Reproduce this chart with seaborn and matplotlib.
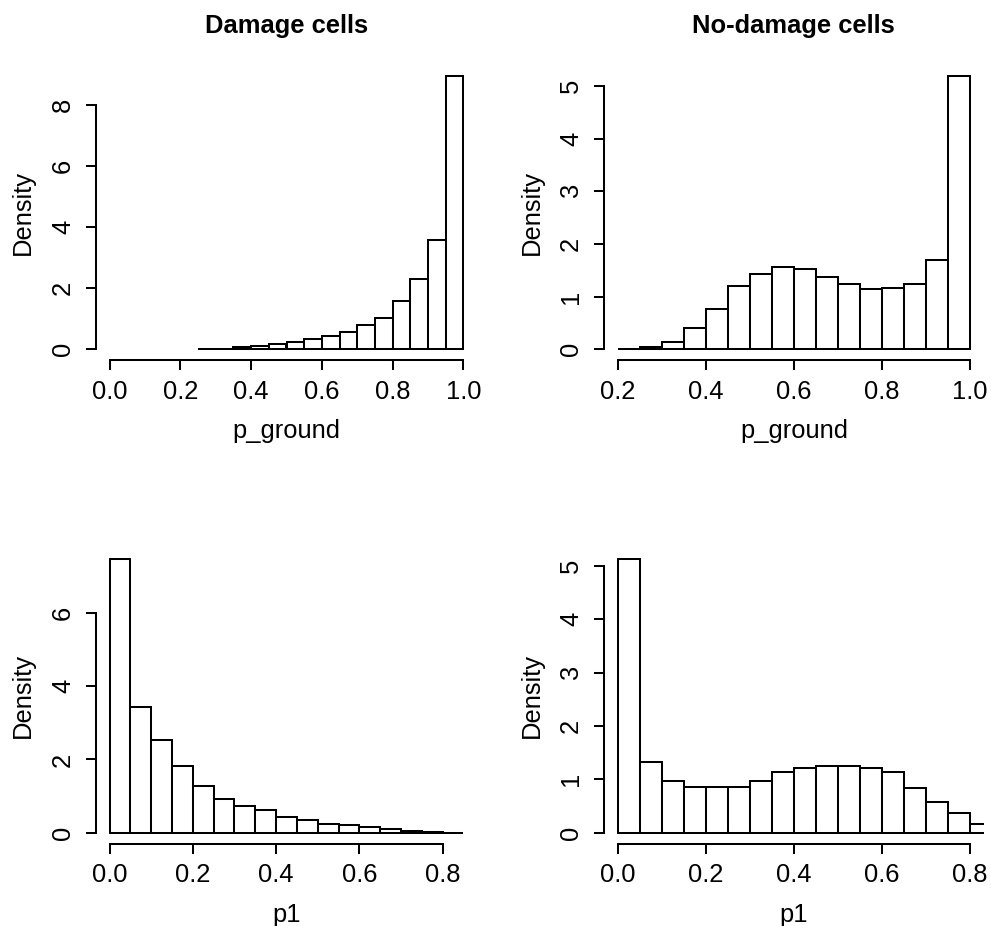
import numpy as np
import pandas as pd
import matplotlib
matplotlib.use("Agg")
import matplotlib.pyplot as plt
import seaborn as sns

# ---------------- data (densities) ----------------
bin_width = 0.05

dmg_ground_start = 0.25
dmg_ground_density = [0.005, 0.01, 0.06, 0.11, 0.16, 0.23, 0.34, 0.45, 0.56,
                      0.79, 1.02, 1.58, 2.29, 3.58, 8.95]

nodmg_ground_start = 0.20
nodmg_ground_density = [0.0, 0.04, 0.13, 0.40, 0.76, 1.20, 1.43, 1.56, 1.53,
                        1.37, 1.23, 1.14, 1.17, 1.23, 1.69, 5.19]

dmg_p1_start = 0.0
dmg_p1_density = [7.48, 3.43, 2.53, 1.83, 1.28, 0.91, 0.72, 0.62, 0.44, 0.34,
                  0.25, 0.20, 0.15, 0.11, 0.05, 0.03, 0.0]

nodmg_p1_start = 0.0
nodmg_p1_density = [5.13, 1.33, 0.97, 0.86, 0.86, 0.86, 0.97, 1.13, 1.22, 1.25,
                    1.25, 1.22, 1.13, 0.84, 0.58, 0.36, 0.17]

titles = ["Damage cells", "No-damage cells", None, None]
xlabels = ["p_ground", "p_ground", "p1", "p1"]
xticks_list = [[0.0, 0.2, 0.4, 0.6, 0.8, 1.0],
               [0.2, 0.4, 0.6, 0.8, 1.0],
               [0.0, 0.2, 0.4, 0.6, 0.8],
               [0.0, 0.2, 0.4, 0.6, 0.8]]
yticks_list = [[0, 2, 4, 6, 8],
               [0, 1, 2, 3, 4, 5],
               [0, 2, 4, 6],
               [0, 1, 2, 3, 4, 5]]
xlims = [(0.0, 1.0), (0.2, 1.0), (0.0, 0.85), (0.0, 0.8)]

# ---------------- style ----------------
plt.rcParams["font.family"] = ["Liberation Sans", "DejaVu Sans"]
FS = 18.4
LW = 1.45

fig = plt.figure(figsize=(9.91, 9.26), dpi=100)
W, H = 991, 926

def px_axes(x0, x1, y0, y1):
    return fig.add_axes([x0 / W, 1 - y1 / H, (x1 - x0) / W, (y1 - y0) / H])

axes = [px_axes(95.5, 477.5, 65, 360.2),
        px_axes(603.6, 984.1, 65, 360.2),
        px_axes(95.5, 477.5, 548, 843.6),
        px_axes(603.6, 984.1, 548, 843.6)]

series = [(dmg_ground_start, dmg_ground_density),
          (nodmg_ground_start, nodmg_ground_density),
          (dmg_p1_start, dmg_p1_density),
          (nodmg_p1_start, nodmg_p1_density)]

for i, ax in enumerate(axes):
    start, dens = series[i]
    n = len(dens)
    edges = (start + bin_width * np.arange(n + 1)).round(4)
    centers = edges[:-1] + bin_width / 2
    df = pd.DataFrame({"x": centers, "w": dens})
    sns.histplot(data=df, x="x", weights="w", bins=edges.tolist(), stat="count",
                 ax=ax, color="white", edgecolor="black", linewidth=LW,
                 alpha=1)
    lo, hi = xlims[i]
    ext = 0.04 * (hi - lo)
    ax.set_xlim(lo - ext, hi + ext)
    ymax = max(dens)
    ax.set_ylim(-0.04 * ymax, ymax * 1.04)

    for s in ["top", "right"]:
        ax.spines[s].set_visible(False)
    for s in ["left", "bottom"]:
        ax.spines[s].set_linewidth(LW)
        ax.spines[s].set_color("black")
    xt = xticks_list[i]
    yt = yticks_list[i]
    ax.set_xticks(xt)
    ax.set_xticklabels([f"{v:.1f}" for v in xt])
    ax.set_yticks(yt)
    ax.set_yticklabels([str(v) for v in yt], rotation=90, va="center")
    ax.spines["bottom"].set_bounds(xt[0], xt[-1])
    ax.spines["left"].set_bounds(yt[0], yt[-1])
    ax.tick_params(axis="both", direction="out", length=7.2, width=LW,
                   colors="black", labelsize=FS)
    ax.tick_params(axis="x", pad=7.0)
    ax.tick_params(axis="y", pad=7.5)
    ax.set_xlabel(xlabels[i], fontsize=FS)
    ax.set_ylabel("Density", fontsize=FS)
    ax.xaxis.set_label_coords(0.5, -0.20)
    ax.yaxis.set_label_coords(-0.158, 0.5)
    ax.set_facecolor("white")
    if titles[i]:
        ax.set_title(titles[i], fontsize=FS, fontweight="bold", pad=23.3)

fig.savefig("out.png", dpi=100, facecolor="white")
